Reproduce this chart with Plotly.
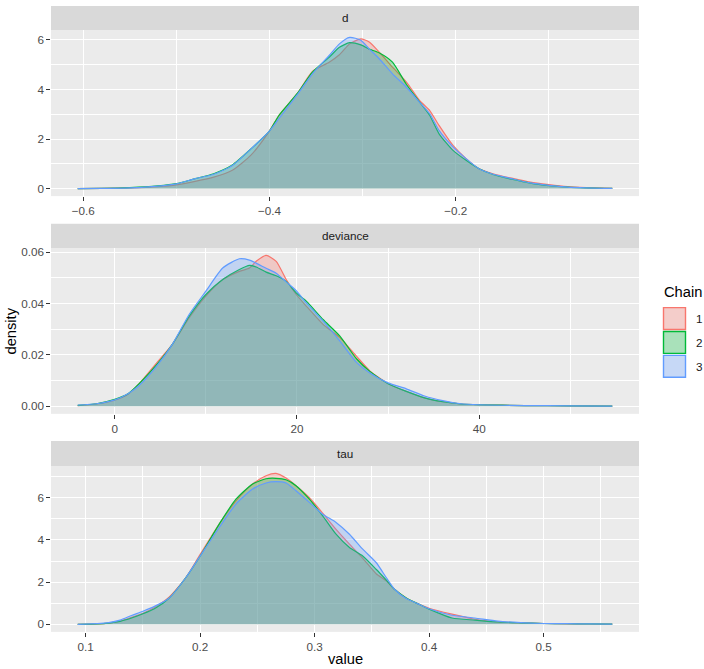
import plotly.graph_objects as go

# ---------------- data ----------------
chains = ["1", "2", "3"]
colors = ["#F8766D", "#00BA38", "#619CFF"]
fills = ["rgba(248,118,109,0.3)", "rgba(0,186,56,0.3)", "rgba(97,156,255,0.3)"]

# panel "d"
d_x = [-0.606, -0.58, -0.55, -0.52, -0.50, -0.48, -0.46, -0.44, -0.42, -0.40, -0.39, -0.37,
       -0.354, -0.336, -0.325, -0.314, -0.302, -0.293, -0.282, -0.268, -0.253, -0.239, -0.228,
       -0.218, -0.203, -0.189, -0.175, -0.16, -0.14, -0.12, -0.10, -0.08, -0.06, -0.04, -0.032]
d_c1 = [0.0, 0.01, 0.03, 0.08, 0.15, 0.29, 0.46, 0.74, 1.35, 2.33, 2.95, 3.85,
        4.73, 5.1, 5.4, 5.84, 6.04, 5.92, 5.5, 4.9, 4.3, 3.56, 3.15,
        2.55, 1.74, 1.21, 0.8, 0.6, 0.42, 0.26, 0.16, 0.08, 0.04, 0.015, 0.01]
d_c2 = [0.0, 0.01, 0.04, 0.11, 0.2, 0.4, 0.6, 0.95, 1.6, 2.33, 2.95, 3.85,
        4.7, 5.3, 5.7, 5.89, 5.8, 5.63, 5.47, 5.1, 4.2, 3.5, 2.95,
        2.21, 1.54, 1.14, 0.8, 0.57, 0.38, 0.22, 0.12, 0.06, 0.03, 0.01, 0.005]
d_c3 = [0.0, 0.01, 0.03, 0.1, 0.19, 0.4, 0.58, 0.93, 1.6, 2.33, 2.82, 3.8,
        4.63, 5.37, 5.84, 6.1, 5.99, 5.64, 5.23, 4.63, 4.09, 3.49, 3.02,
        2.35, 1.68, 1.21, 0.8, 0.58, 0.4, 0.23, 0.13, 0.06, 0.03, 0.01, 0.005]

# panel "deviance"
dev_x = [-4.06, -2, 0, 1.5, 2.68, 4.51, 6.34, 8.18, 10.0, 11.85, 13.68, 14.79, 15.52, 16.62,
         17.72, 18.82, 19.92, 21.02, 22.86, 24.69, 26.53, 28, 30, 32, 34, 36, 38, 40, 45, 50, 54.6]
dev_c1 = [0.0003, 0.0009, 0.0024, 0.0048, 0.0088, 0.0165, 0.0242, 0.0345, 0.0429, 0.0493, 0.0525,
          0.0538, 0.0564, 0.0587, 0.0564, 0.0493, 0.0435, 0.039, 0.0319, 0.0268, 0.0195, 0.0138,
          0.0088, 0.0058, 0.0033, 0.0018, 0.0009, 0.0006, 0.0003, 0.0002, 0.0001]
dev_c2 = [0.0004, 0.001, 0.0027, 0.005, 0.0088, 0.0158, 0.0242, 0.0351, 0.0435, 0.0493, 0.0532,
          0.0548, 0.0542, 0.0522, 0.0508, 0.0486, 0.0441, 0.0409, 0.0338, 0.0274, 0.0185, 0.0136,
          0.0088, 0.0058, 0.0033, 0.0018, 0.0009, 0.0006, 0.0003, 0.0002, 0.0001]
dev_c3 = [0.0005, 0.001, 0.0025, 0.005, 0.0081, 0.0152, 0.0242, 0.0358, 0.0448, 0.0538, 0.0574,
          0.0569, 0.0557, 0.0537, 0.0518, 0.0484, 0.045, 0.0403, 0.0332, 0.0255, 0.0171, 0.013,
          0.0091, 0.0068, 0.004, 0.0022, 0.001, 0.0006, 0.0003, 0.0002, 0.0001]

# panel "tau"
tau_x = [0.093, 0.11, 0.12, 0.13, 0.14, 0.15, 0.16, 0.173, 0.1875, 0.2, 0.2166, 0.2312, 0.2458,
         0.2575, 0.2662, 0.275, 0.2837, 0.2954, 0.307, 0.3187, 0.3304, 0.342, 0.3537, 0.3625,
         0.37, 0.38, 0.39, 0.40, 0.42, 0.44, 0.46, 0.48, 0.50, 0.52, 0.54, 0.56]
tau_c1 = [0.0, 0.02, 0.06, 0.15, 0.33, 0.52, 0.8, 1.3, 2.22, 3.32, 4.75, 5.85, 6.65,
          7.04, 7.15, 6.93, 6.57, 6.0, 5.27, 4.5, 3.8, 3.13, 2.4, 2.06,
          1.65, 1.25, 0.98, 0.76, 0.48, 0.24, 0.12, 0.07, 0.04, 0.025, 0.015, 0.01]
tau_c2 = [0.0, 0.02, 0.06, 0.14, 0.3, 0.5, 0.74, 1.25, 2.22, 3.24, 4.75, 5.93, 6.65,
          6.9, 6.92, 6.85, 6.57, 5.93, 5.14, 4.27, 3.64, 3.24, 2.61, 2.1,
          1.65, 1.25, 0.98, 0.72, 0.3, 0.2, 0.11, 0.07, 0.04, 0.03, 0.02, 0.01]
tau_c3 = [0.0, 0.03, 0.08, 0.2, 0.42, 0.62, 0.85, 1.25, 2.22, 3.24, 4.59, 5.7, 6.41,
          6.7, 6.76, 6.7, 6.33, 5.78, 5.22, 4.83, 4.27, 3.56, 2.93, 2.22,
          1.65, 1.22, 0.98, 0.74, 0.43, 0.3, 0.15, 0.08, 0.04, 0.03, 0.02, 0.01]

panels = [
    ("d", d_x, [d_c1, d_c2, d_c3]),
    ("deviance", dev_x, [dev_c1, dev_c2, dev_c3]),
    ("tau", tau_x, [tau_c1, tau_c2, tau_c3]),
]

# tick setup
x_ticks = [([-0.6, -0.4, -0.2], ["\u22120.6", "\u22120.4", "\u22120.2"], [-0.5, -0.3, -0.1]),
           ([0, 20, 40], ["0", "20", "40"], [10, 30, 50]),
           ([0.1, 0.2, 0.3, 0.4, 0.5], ["0.1", "0.2", "0.3", "0.4", "0.5"], [0.15, 0.25, 0.35, 0.45, 0.55])]
y_ticks = [([0, 2, 4, 6], ["0", "2", "4", "6"], [1, 3, 5]),
           ([0, 0.02, 0.04, 0.06], ["0.00", "0.02", "0.04", "0.06"], [0.01, 0.03, 0.05]),
           ([0, 2, 4, 6], ["0", "2", "4", "6"], [1, 3, 5, 7])]

W, H = 704, 669
def px(x):
    return x / W
def py(y):
    return 1 - y / H

# panel pixel geometry (top, bottom of plotting area), strip top
panel_px = [(27, 194, 3), (246, 412.7, 221.7), (465, 631.7, 440)]
x_left, x_right = 51, 639

FONT = "Liberation Sans, Arial, sans-serif"

fig = go.Figure()
for i, (name, xs, ys_list) in enumerate(panels):
    ax = "" if i == 0 else str(i + 1)
    for c in range(3):
        fig.add_trace(go.Scatter(
            x=xs, y=ys_list[c], mode="lines", fill="tozeroy",
            fillcolor=fills[c], line=dict(color=colors[c], width=1.2, shape="spline", smoothing=0.6),
            xaxis="x" + ax, yaxis="y" + ax, showlegend=False, name=chains[c],
            hoverinfo="skip"))

layout = dict(
    width=W, height=H, margin=dict(l=0, r=0, t=0, b=0),
    paper_bgcolor="white", plot_bgcolor="#EBEBEB",
    font=dict(family=FONT, color="#1A1A1A"),
    showlegend=False,
)

shapes = []
annotations = []
for i, (name, xs, ys_list) in enumerate(panels):
    top, bot, stop = panel_px[i]
    xk = "xaxis" if i == 0 else "xaxis%d" % (i + 1)
    yk = "yaxis" if i == 0 else "yaxis%d" % (i + 1)
    yanchor = "y" if i == 0 else "y%d" % (i + 1)
    xanchor = "x" if i == 0 else "x%d" % (i + 1)
    allv = [v for s in ys_list for v in s]
    ymax = max(allv)
    ypad = 0.05 * ymax
    xpad = 0.05 * (max(xs) - min(xs))
    tv, tt, mv = x_ticks[i]
    layout[xk] = dict(
        domain=[px(x_left), px(x_right)], anchor=yanchor,
        range=[min(xs) - xpad, max(xs) + xpad],
        tickmode="array", tickvals=tv, ticktext=tt,
        ticks="outside", ticklen=3.7, tickwidth=1.1, tickcolor="#333333",
        tickfont=dict(size=11.7, color="#4D4D4D", family=FONT),
        showgrid=True, gridcolor="white", gridwidth=1.3,
        minor=dict(tickmode="array", tickvals=mv, showgrid=True, gridcolor="white", gridwidth=0.6, ticks=""),
        zeroline=False, showline=False,
    )
    tv, tt, mv = y_ticks[i]
    layout[yk] = dict(
        domain=[py(bot), py(top)], anchor=xanchor,
        range=[-ypad, ymax + ypad],
        tickmode="array", tickvals=tv, ticktext=tt,
        ticks="outside", ticklen=3.7, tickwidth=1.1, tickcolor="#333333",
        tickfont=dict(size=11.7, color="#4D4D4D", family=FONT),
        showgrid=True, gridcolor="white", gridwidth=1.3,
        minor=dict(tickmode="array", tickvals=mv, showgrid=True, gridcolor="white", gridwidth=0.6, ticks=""),
        zeroline=False, showline=False,
    )
    # strip
    shapes.append(dict(type="rect", xref="paper", yref="paper",
                       x0=px(x_left), x1=px(x_right), y0=py(top), y1=py(stop),
                       fillcolor="#D9D9D9", line=dict(width=0), layer="below"))
    annotations.append(dict(text=name, xref="paper", yref="paper",
                            x=px((x_left + x_right) / 2), y=py((top + stop) / 2),
                            xanchor="center", yanchor="middle", showarrow=False,
                            font=dict(size=11.7, color="#1A1A1A", family=FONT)))

# axis titles
annotations.append(dict(text="density", xref="paper", yref="paper", x=px(11), y=py(330),
                        textangle=-90, xanchor="center", yanchor="middle", showarrow=False,
                        font=dict(size=14.7, color="black", family=FONT)))
annotations.append(dict(text="value", xref="paper", yref="paper", x=px(345), y=py(659),
                        xanchor="center", yanchor="middle", showarrow=False,
                        font=dict(size=14.7, color="black", family=FONT)))

# legend (manual, ggplot style)
annotations.append(dict(text="Chain", xref="paper", yref="paper", x=px(662), y=py(290),
                        xanchor="left", yanchor="middle", showarrow=False,
                        font=dict(size=14.7, color="black", family=FONT)))
key_tops = [306, 330, 354]
for c in range(3):
    t = key_tops[c]
    shapes.append(dict(type="rect", xref="paper", yref="paper",
                       x0=px(663.5), x1=px(685.5), y0=py(t + 22), y1=py(t),
                       fillcolor="#F2F2F2", line=dict(width=0)))
    shapes.append(dict(type="rect", xref="paper", yref="paper",
                       x0=px(663.5), x1=px(685.5), y0=py(t + 22), y1=py(t),
                       fillcolor=fills[c], line=dict(color=colors[c], width=1.4)))
    annotations.append(dict(text=chains[c], xref="paper", yref="paper", x=px(694), y=py(t + 11),
                            xanchor="left", yanchor="middle", showarrow=False,
                            font=dict(size=11.7, color="#1A1A1A", family=FONT)))

layout["shapes"] = shapes
layout["annotations"] = annotations
fig.update_layout(**layout)
fig.write_html("out.html")
